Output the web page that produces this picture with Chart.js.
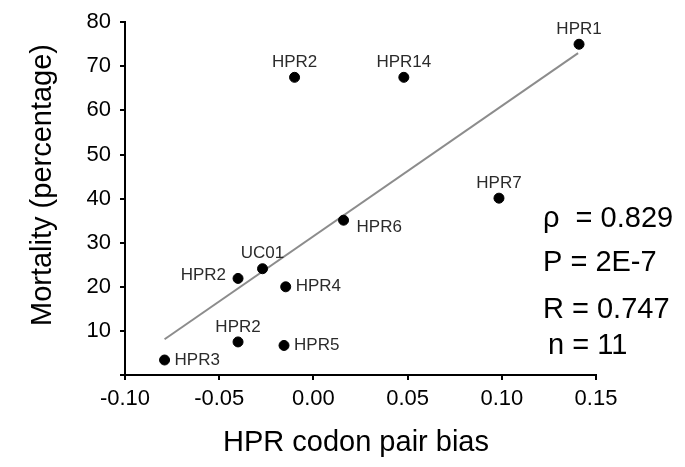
<!DOCTYPE html>
<html lang="en">
<head>
    <meta charset="UTF-8">
    <title>HPR codon pair bias vs mortality</title>
    <script src="https://cdn.jsdelivr.net/npm/chart.js"></script>
    <style>
        body { margin: 0; background: #fff; }
    </style>
</head>
<body>
    <canvas id="scatterChart" width="685" height="467"></canvas>

    <script>
        // values
        const strains = ['HPR1', 'HPR14', 'HPR2', 'HPR7', 'HPR6', 'UC01', 'HPR2', 'HPR4', 'HPR2', 'HPR5', 'HPR3'];
        const codonBias = [0.141, 0.048, -0.010, 0.0985, 0.016, -0.027, -0.040, -0.0147, -0.040, -0.0156, -0.079];
        const mortality = [75.0, 67.5, 67.5, 40.1, 35.1, 24.1, 21.9, 20.0, 7.5, 6.7, 3.4];
        // where each name sits relative to its dot
        const labelSide = ['top', 'top', 'top', 'top', 'lowright', 'top', 'left', 'right', 'top', 'right', 'right'];

        // regression line end points
        const trendX = [-0.079, 0.1405];
        const trendY = [8.1, 73.0];

        const xTicks = [-0.10, -0.05, 0.00, 0.05, 0.10, 0.15];
        const yTicks = [0, 10, 20, 30, 40, 50, 60, 70, 80];

        const statLines = ['\u03c1  = 0.829', 'P = 2E-7', 'R = 0.747', 'n = 11'];

        const FONT = 'Arial, "Liberation Sans", sans-serif';

        // names next to dots, stats block and axis titles
        const annotations = {
            id: 'annotations',
            afterDatasetsDraw(chart) {
                const ctx = chart.ctx;
                const xs = chart.scales.x;
                const ys = chart.scales.y;
                const area = chart.chartArea;
                ctx.save();

                ctx.fillStyle = '#2b2b2b';
                ctx.font = '17px ' + FONT;
                strains.forEach((name, i) => {
                    const px = xs.getPixelForValue(codonBias[i]);
                    const py = ys.getPixelForValue(mortality[i]);
                    const side = labelSide[i];
                    if (side === 'top') {
                        ctx.textAlign = 'center';
                        ctx.textBaseline = 'middle';
                        ctx.fillText(name, px, py - 15);
                    } else if (side === 'left') {
                        ctx.textAlign = 'right';
                        ctx.textBaseline = 'middle';
                        ctx.fillText(name, px - 12, py - 3);
                    } else if (side === 'lowright') {
                        ctx.textAlign = 'left';
                        ctx.textBaseline = 'middle';
                        ctx.fillText(name, px + 13, py + 7);
                    } else {
                        ctx.textAlign = 'left';
                        ctx.textBaseline = 'middle';
                        ctx.fillText(name, px + 10, py);
                    }
                });

                // stats
                ctx.fillStyle = '#000';
                ctx.font = '29px ' + FONT;
                ctx.textAlign = 'left';
                ctx.textBaseline = 'alphabetic';
                const baselines = [227, 271, 318, 354];
                statLines.forEach((t, i) => {
                    ctx.fillText(t, i === 3 ? 548 : 543, baselines[i]);
                });

                // axis titles
                ctx.font = '29px ' + FONT;
                ctx.textAlign = 'center';
                ctx.textBaseline = 'middle';
                ctx.fillText('HPR codon pair bias', 356, 443);
                ctx.translate(43, 185);
                ctx.rotate(-Math.PI / 2);
                ctx.fillText('Mortality (percentage)', 0, 0);

                ctx.restore();
            }
        };

        const ctx = document.getElementById('scatterChart').getContext('2d');
        const scatterChart = new Chart(ctx, {
            type: 'scatter',
            data: {
                datasets: [
                    {
                        label: 'Strains',
                        data: codonBias.map((x, i) => ({ x: x, y: mortality[i] })),
                        backgroundColor: '#000',
                        borderColor: '#000',
                        pointRadius: 5,
                        pointHoverRadius: 5
                    },
                    {
                        type: 'line',
                        label: 'Fit',
                        data: trendX.map((x, i) => ({ x: x, y: trendY[i] })),
                        borderColor: '#8c8c8c',
                        borderWidth: 2,
                        pointRadius: 0,
                        fill: false
                    }
                ]
            },
            options: {
                responsive: false,
                animation: false,
                layout: {
                    padding: { left: 0, right: 89, top: 22, bottom: 0 }
                },
                plugins: {
                    legend: { display: false },
                    tooltip: { enabled: false }
                },
                scales: {
                    x: {
                        type: 'linear',
                        min: xTicks[0],
                        max: xTicks[xTicks.length - 1],
                        afterFit: scale => { scale.height = 92; },
                        afterBuildTicks: scale => {
                            scale.ticks = xTicks.map(v => ({ value: v }));
                        },
                        border: { display: true, color: '#000', width: 2 },
                        grid: { drawOnChartArea: false, drawTicks: true, tickLength: 5, color: '#000', lineWidth: 2 },
                        ticks: {
                            color: '#000',
                            padding: 6,
                            maxRotation: 0,
                            font: { family: FONT, size: 22 },
                            callback: v => Math.abs(v) < 1e-9 ? '0.00' : v.toFixed(2)
                        }
                    },
                    y: {
                        min: yTicks[0],
                        max: yTicks[yTicks.length - 1],
                        afterFit: scale => { scale.width = 125; },
                        afterBuildTicks: scale => {
                            scale.ticks = yTicks.map(v => ({ value: v }));
                        },
                        border: { display: true, color: '#000', width: 2 },
                        grid: { drawOnChartArea: false, drawTicks: true, tickLength: 5, color: '#000', lineWidth: 2 },
                        ticks: {
                            color: '#000',
                            padding: 9,
                            font: { family: FONT, size: 22 },
                            callback: v => v === 0 ? '' : v
                        }
                    }
                }
            },
            plugins: [annotations]
        });
    </script>
</body>
</html>
